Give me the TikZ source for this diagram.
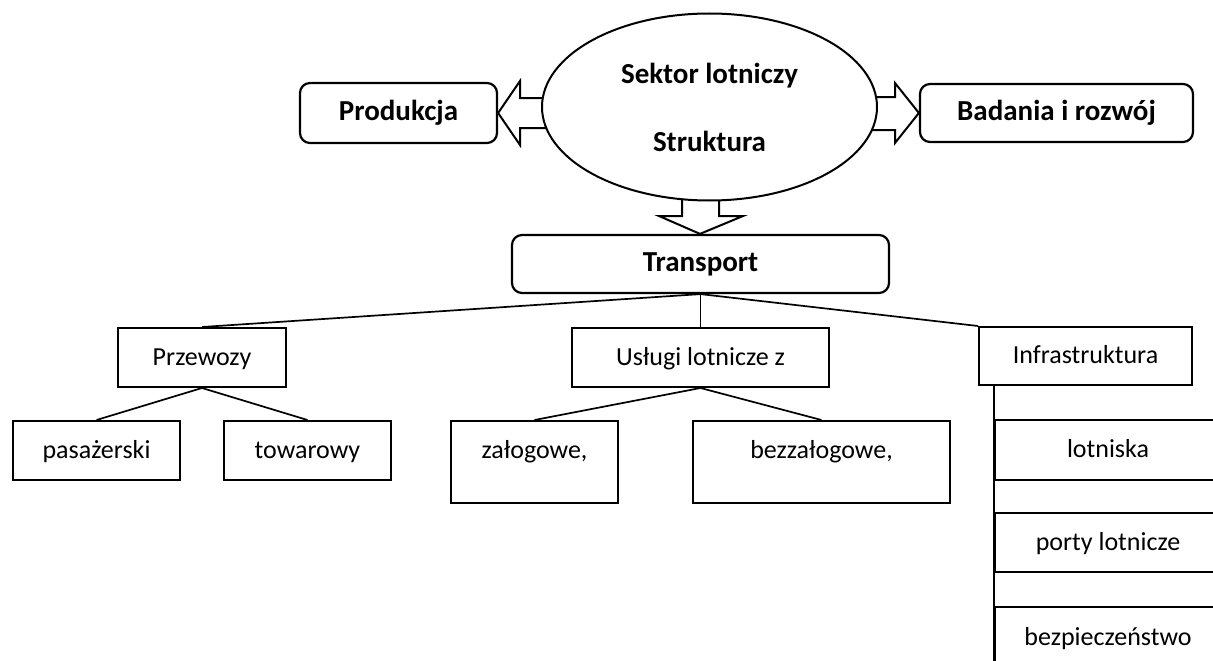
\documentclass[tikz,border=0pt]{standalone}
\usepackage{fontspec}
\setmainfont{Carlito}
\usetikzlibrary{shapes.geometric,calc}
\tikzset{
  rbox/.style={draw,line width=2.2pt,rounded corners=10pt,inner sep=0pt,text height=21pt,text depth=6pt,font=\fontsize{29}{35}\selectfont\bfseries},
  sbox/.style={draw,line width=2pt,inner sep=0pt,text height=19pt,text depth=4pt,font=\fontsize{26}{31}\selectfont},
  conn/.style={line width=1.7pt},
  blockarrow/.style={draw,fill=white,line width=2pt,line join=miter},
}
\begin{document}
\begin{tikzpicture}[x=1pt,y=-1pt]
\useasboundingbox (0,0) rectangle (1213,661);
% boxes
\node[rbox,minimum width=197pt,minimum height=60pt] (prod) at (398.5,113) {Produkcja};
\node[rbox,minimum width=273pt,minimum height=58pt] (bad) at (1056.5,113) {Badania i rozwój};
\node[rbox,minimum width=377pt,minimum height=58pt] (trans) at (700.5,264) {Transport};
% block arrows (drawn before the ellipse so the ellipse covers the shaft ends)
\draw[blockarrow] (570,98) -- (520,98) -- (520,81) -- (prod.east) -- (520,145) -- (520,128) -- (570,128) -- cycle;
\draw[blockarrow] (850,97) -- (895,97) -- (895,83) -- (bad.west) -- (895,143) -- (895,130) -- (850,130) -- cycle;
\draw[blockarrow] (682,180) -- (682,216) -- (659,216) -- (trans.north -| 700,0) -- (743,216) -- (719,216) -- (719,180) -- cycle;
\node[ellipse,draw,fill=white,line width=2pt,minimum width=335pt,minimum height=187pt,inner sep=0pt,align=center,font=\fontsize{29}{35}\selectfont\bfseries] (sek) at (709.5,107) {Sektor lotniczy\\[33pt]Struktura};
% second level
\node[sbox,minimum width=168pt,minimum height=59pt] (prz) at (202,357.5) {Przewozy};
\node[sbox,minimum width=257pt,minimum height=59pt] (usl) at (700.5,357.5) {Usługi lotnicze z};
\node[sbox,minimum width=213pt,minimum height=58pt] (inf) at (1085.5,356) {Infrastruktura};
\draw[conn] (trans.south) -- (prz.north);
\draw[conn] (trans.south) -- (usl.north);
\draw[conn] (trans.south) -- (inf.north west);
% third level
\node[sbox,minimum width=167pt,minimum height=59pt] (pas) at (96.5,450.5) {pasażerski};
\node[sbox,minimum width=167pt,minimum height=59pt] (tow) at (307.5,450.5) {towarowy};
\draw[conn] (prz.south) -- (pas.north);
\draw[conn] (prz.south) -- (tow.north);
\node[sbox,minimum width=167pt,text height=37pt,text depth=45pt] (zal) at (534.5,462) {załogowe,};
\node[sbox,minimum width=257pt,text height=37pt,text depth=45pt] (bez) at (821.5,462) {bezzałogowe,};
\draw[conn] (usl.south) -- (zal.north);
\draw[conn] (usl.south) -- (bez.north);
% infrastructure column
\node[sbox,minimum width=226pt,minimum height=60pt] (lot) at (1108,450) {lotniska};
\node[sbox,minimum width=226pt,minimum height=59pt] (por) at (1108,542.5) {porty lotnicze};
\node[sbox,minimum width=226pt,text height=38pt,text depth=60pt] (bzp) at (1108,656) {bezpieczeństwo};
\coordinate (infl) at (inf.south -| lot.west);
\draw[conn] (infl) -- (bzp.south west);
\end{tikzpicture}
\end{document}
